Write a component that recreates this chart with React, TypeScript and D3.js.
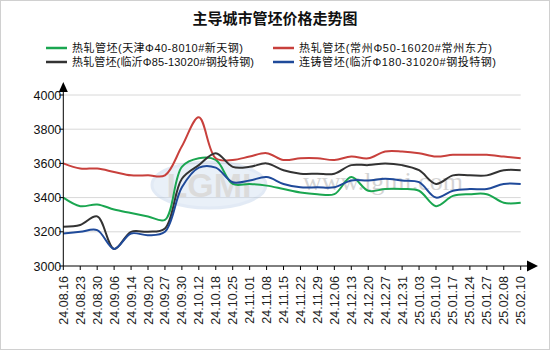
import React from "react";
import * as d3 from "d3";

const dates = ["24.08.16","24.08.23","24.08.30","24.09.06","24.09.14","24.09.20","24.09.27","24.09.30","24.10.12","24.10.18","24.10.25","24.11.01","24.11.08","24.11.15","24.11.22","24.11.29","24.12.06","24.12.13","24.12.20","24.12.27","24.12.31","25.01.03","25.01.10","25.01.17","25.01.24","25.01.27","25.02.08","25.02.10"];

const tianjin = [3400,3350,3360,3330,3310,3290,3270,3580,3630,3620,3480,3480,3470,3450,3430,3420,3420,3520,3440,3450,3450,3440,3350,3410,3420,3420,3370,3370];
const changzhou = [3600,3570,3570,3550,3530,3530,3530,3700,3870,3630,3620,3640,3660,3620,3630,3630,3620,3640,3630,3670,3670,3660,3640,3650,3650,3650,3640,3630];
const linyiHot = [3230,3240,3290,3100,3200,3200,3220,3510,3590,3660,3580,3580,3600,3560,3540,3540,3540,3590,3590,3600,3590,3560,3480,3530,3530,3530,3560,3560];
const linyiCast = [3190,3200,3210,3100,3190,3180,3200,3460,3575,3575,3490,3500,3520,3480,3460,3460,3460,3500,3500,3510,3500,3490,3400,3440,3450,3450,3480,3480];

const yTicks = [3000, 3200, 3400, 3600, 3800, 4000];

const seriesList = [
  { name: "热轧管坯(天津Φ40-8010#新天钢)", values: tianjin, color: "#1aa650" },
  { name: "热轧管坯(常州Φ50-16020#常州东方)", values: changzhou, color: "#c8403c" },
  { name: "热轧管坯(临沂Φ85-13020#钢投特钢)", values: linyiHot, color: "#333333" },
  { name: "连铸管坯(临沂Φ180-31020#钢投特钢)", values: linyiCast, color: "#1f4a9a" },
];

const legendPos = [
  { x: 46, y: 48, w: 171 },
  { x: 273, y: 48, w: 193 },
  { x: 46, y: 62, w: 182 },
  { x: 273, y: 62, w: 197 },
];

export default function App() {
  const W = 550, H = 350;
  const x0 = 63.3, x1 = 520.7, yTop = 95, yBot = 266;
  const x = d3.scalePoint<string>().domain(dates).range([x0, x1]);
  const y = d3.scaleLinear().domain([3000, 4000]).range([yBot, yTop]);
  const line = d3
    .line<number>()
    .x((_, i) => x(dates[i]) as number)
    .y((d) => y(d))
    .curve(d3.curveCatmullRom.alpha(0.5));
  const cjk = "'Noto Sans CJK SC', 'Liberation Sans', sans-serif";
  const legendFont = "'Liberation Sans', 'Noto Sans CJK SC', sans-serif";
  const latin = "'Liberation Sans', Arial, sans-serif";

  return (
    <svg width={W} height={H} style={{ position: "absolute", left: 0, top: 0 }}>
      <rect x={0} y={0} width={W} height={H} fill="#fff" />
      <rect x={0.5} y={0.5} width={W - 1} height={H - 1} fill="none" stroke="#d0d0d0" />
      <text x={275} y={24} textAnchor="middle" fontFamily={cjk} fontWeight="bold" fontSize={15} fill="#111">
        主导城市管坯价格走势图
      </text>
      {seriesList.map((s, i) => (
        <g key={s.name}>
          <line x1={legendPos[i].x} x2={legendPos[i].x + 21} y1={legendPos[i].y} y2={legendPos[i].y} stroke={s.color} strokeWidth={2.5} />
          <text
            x={legendPos[i].x + 26}
            y={legendPos[i].y + 4}
            fontFamily={legendFont}
            fontSize={11}
            fill="#111"
            textLength={legendPos[i].w}
            lengthAdjust="spacing"
          >
            {s.name}
          </text>
        </g>
      ))}
      {/* grid */}
      {yTicks.slice(1).map((t) => (
        <line key={t} x1={x0} x2={x1} y1={y(t)} y2={y(t)} stroke="#d8d8d8" strokeWidth={1} />
      ))}
      {/* watermark */}
      <g opacity={0.4}>
        <ellipse cx={209} cy={185} rx={57} ry={23} fill="#c9daf0" stroke="#b8cde8" strokeWidth={3} />
        <text x={209} y={197} textAnchor="middle" fontFamily={latin} fontWeight="bold" fontSize={34} fill="#a8a8a8">
          LGMI
        </text>
      </g>
      <text x={303} y={190} fontFamily="'Liberation Serif', serif" fontSize={26} fill="#d4d4d4">
        www.lgmi.com
      </text>
      {/* series */}
      {seriesList.map((s) => (
        <path key={s.name} d={line(s.values) || ""} fill="none" stroke={s.color} strokeWidth={2} />
      ))}
      {/* axes */}
      <line x1={x0} x2={x0} y1={yBot} y2={88} stroke="#000" strokeWidth={1} />
      <path d={`M${x0 - 4.5},${92} L${x0},${82} L${x0 + 4.5},${92} Z`} fill="#000" />
      <line x1={x0} x2={530} y1={yBot} y2={yBot} stroke="#000" strokeWidth={1} />
      <path d={`M527,${yBot - 5.5} L538,${yBot} L527,${yBot + 5.5} Z`} fill="#000" />
      {yTicks.map((t) => (
        <g key={t}>
          <line x1={x0 - 4} x2={x0} y1={y(t)} y2={y(t)} stroke="#000" />
          <text x={x0 - 2} y={y(t) + 4.5} textAnchor="end" fontFamily={latin} fontSize={12.5} fill="#111">
            {t}
          </text>
        </g>
      ))}
      {dates.map((d) => {
        const px = x(d) as number;
        return (
          <g key={d}>
            <line x1={px} x2={px} y1={yBot} y2={yBot + 4} stroke="#000" />
            <text
              transform={`translate(${px + 4.5},276) rotate(-90)`}
              textAnchor="end"
              fontFamily={latin}
              fontSize={12.5}
              fill="#222"
            >
              {d}
            </text>
          </g>
        );
      })}
    </svg>
  );
}
